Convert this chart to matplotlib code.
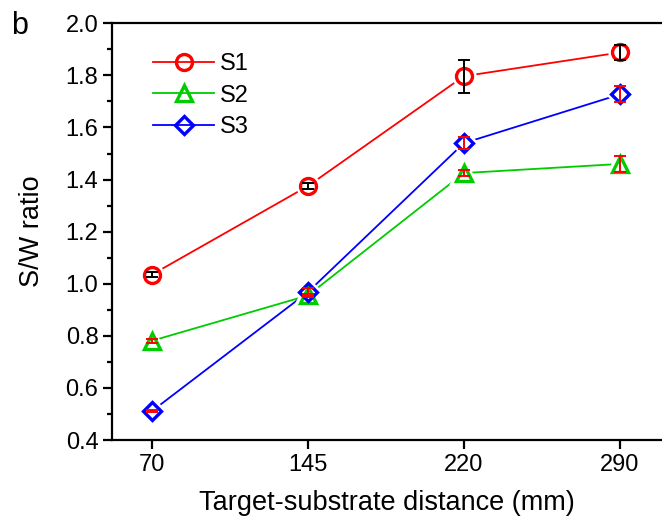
import numpy as np
import matplotlib
matplotlib.use("Agg")
import matplotlib.pyplot as plt
from matplotlib.ticker import MultipleLocator, FormatStrFormatter

plt.rcParams["font.family"] = ["Liberation Sans", "DejaVu Sans"]

distances = ["70", "145", "220", "290"]

s1 = [1.035, 1.375, 1.797, 1.888]
s1_err = [0.010, 0.010, 0.063, 0.030]

s2 = [0.781, 0.955, 1.425, 1.460]
s2_err = [0.008, 0.006, 0.013, 0.029]

s3 = [0.511, 0.968, 1.540, 1.727]
s3_err = [0.005, 0.015, 0.024, 0.031]

# name, values, errors, colour, marker, error bar colour
series = [
    ("S1", s1, s1_err, "#ff0000", "o", "black"),
    ("S2", s2, s2_err, "#00cc00", "^", "#ff0000"),
    ("S3", s3, s3_err, "#0000ff", "D", "#ff0000"),
]
msize = {"o": 11.5, "^": 11.5, "D": 9}

fig = plt.figure(figsize=(6.62, 5.17), dpi=100)
ax = fig.add_axes([0.1696, 0.1489, 0.8304, 0.8060])

x = np.arange(len(distances))
handles = []
for name, vals, err, col, mk, ecol in series:
    ln, = ax.plot(x, vals, color=col, lw=1.3, zorder=1)
    # white halo so the line stops short of the marker
    ax.plot(x, vals, ls="none", marker=mk, ms=msize[mk], mfc="white",
            mec="white", mew=6, zorder=1.5)
    pt, = ax.plot(x, vals, ls="none", marker=mk, ms=msize[mk], mfc="none",
                  mec=col, mew=2.4, zorder=2)
    ax.errorbar(x, vals, yerr=err, fmt="none", ecolor=ecol,
                elinewidth=1.4, capsize=4.3, capthick=1.4, zorder=3)
    handles.append((ln, pt))

ax.set_xlim(-0.254, 3.27)
ax.set_ylim(0.4, 2.0)
ax.set_xticks(x)
ax.set_xticklabels(distances)
ax.yaxis.set_major_locator(MultipleLocator(0.2))
ax.yaxis.set_minor_locator(MultipleLocator(0.1))
ax.yaxis.set_major_formatter(FormatStrFormatter("%.1f"))

ax.spines["right"].set_visible(False)
for sp in ["left", "bottom", "top"]:
    ax.spines[sp].set_linewidth(1.6)

ax.tick_params(axis="both", which="major", direction="out", length=6.5, width=1.6,
               labelsize=17, pad=3.5)
ax.tick_params(axis="y", which="minor", direction="out", length=3.5, width=1.6)
ax.tick_params(axis="x", which="minor", bottom=False)

ax.set_xlabel("Target-substrate distance (mm)", fontsize=19.5, labelpad=10)
ax.set_ylabel("S/W ratio", fontsize=19.5, labelpad=15)

ax.legend(handles, [s[0] for s in series], loc="upper left", frameon=False,
          fontsize=17, handlelength=2.6, handletextpad=0.25, labelspacing=0.4,
          borderpad=0.0, borderaxespad=0.0, bbox_to_anchor=(0.074, 0.928))

fig.text(0.017, 0.934, "b", fontsize=22, va="baseline", ha="left")

fig.savefig("out.png", dpi=100)
